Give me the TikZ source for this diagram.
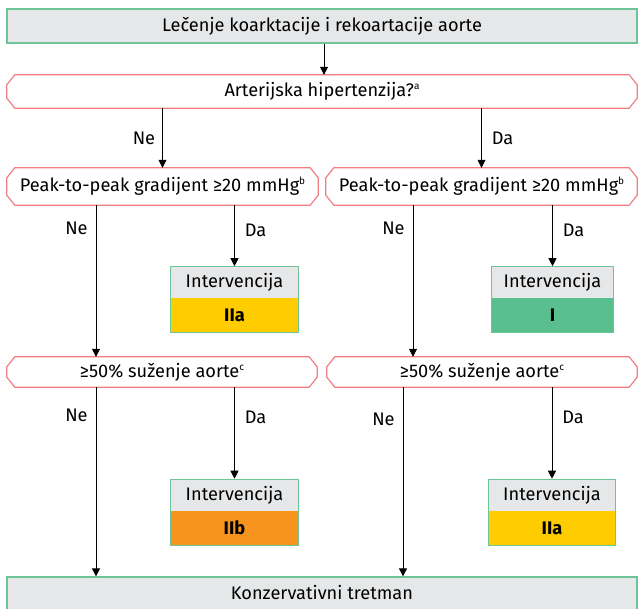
\documentclass[tikz,border=0pt]{standalone}
\usepackage{fontspec}
\setmainfont{Fira Sans}
\usetikzlibrary{arrows.meta,positioning,fit}

\definecolor{boxgreen}{HTML}{6CC497}
\definecolor{hexred}{HTML}{F07F84}
\definecolor{boxgray}{HTML}{E6E7E8}
\definecolor{clsyellow}{HTML}{FFCC00}
\definecolor{clsorange}{HTML}{F7941D}
\definecolor{clsgreen}{HTML}{59BF8E}
\newcommand{\fnmark}[1]{\raisebox{0.75ex}{\fontsize{10}{10}\selectfont #1}}

\begin{document}
\begin{tikzpicture}[
  x=1pt, y=-1pt,
  font=\fontsize{18.2}{21}\selectfont,
  wide/.style={draw=boxgreen, line width=1.3pt, fill=boxgray,
               minimum width=630pt, minimum height=34pt, inner sep=0pt},
  quest/.style={inner sep=0pt},
  hexline/.style={draw=hexred, line width=1.2pt},
  inthead/.style={fill=boxgray, minimum height=31pt, inner sep=0pt},
  intcls/.style={minimum height=34pt, inner sep=0pt, font=\fontsize{18.2}{21}\selectfont\bfseries},
  intframe/.style={draw=boxgreen, line width=1.2pt, inner sep=0pt},
  arr/.style={-{Triangle[length=8pt,width=8pt]}, line width=0.8pt},
  lbl/.style={inner sep=2pt}
]
\useasboundingbox (0,0) rectangle (639,608);

% columns of the side arrows
\coordinate (colL) at (96,0);
\coordinate (colR) at (413,0);
\coordinate (colK) at (403,0);

\node[wide] (top) at (322,26) {Lečenje koarktacije i rekoartacije aorte};
\node[quest, minimum width=630pt, minimum height=33pt] (hyp) at (322,91.5) {Arterijska hipertenzija?\fnmark{a}};

\node[quest, minimum width=311pt, minimum height=37pt] (peakL) at (162.5,186.5) {Peak-to-peak gradijent ≥20 mmHg\fnmark{b}};
\node[quest, minimum width=311pt, minimum height=37pt] (peakR) at (481.5,186.5) {Peak-to-peak gradijent ≥20 mmHg\fnmark{b}};

\node[inthead, minimum width=127pt] (intA) at (234.5,282.5) {Intervencija};
\node[intcls, minimum width=127pt, fill=clsyellow, below=0pt of intA] (intAcls) {IIa};
\node[intframe, fit=(intA)(intAcls)] (intAbox) {};

\node[inthead, minimum width=121pt] (intI) at (552.5,282.5) {Intervencija};
\node[intcls, minimum width=121pt, fill=clsgreen, below=0pt of intI] (intIcls) {I};
\node[intframe, fit=(intI)(intIcls)] (intIbox) {};

\node[quest, minimum width=310pt, minimum height=30pt] (stenL) at (162,372) {≥50\% suženje aorte\fnmark{c}};
\node[quest, minimum width=310pt, minimum height=30pt] (stenR) at (482,372) {≥50\% suženje aorte\fnmark{c}};

\node[inthead, minimum width=127pt] (intB) at (234.5,495) {Intervencija};
\node[intcls, minimum width=127pt, fill=clsorange, below=0pt of intB] (intBcls) {IIb};
\node[intframe, fit=(intB)(intBcls)] (intBbox) {};

\node[inthead, minimum width=127pt] (intC) at (552,495) {Intervencija};
\node[intcls, minimum width=127pt, fill=clsyellow, below=0pt of intC] (intCcls) {IIa};
\node[intframe, fit=(intC)(intCcls)] (intCbox) {};

\node[wide, minimum height=36pt] (kons) at (322,595) {};
\node (konstxt) at (322,592) {Konzervativni tretman};

% chamfered outlines of the question boxes
\foreach \q in {hyp,peakL,peakR,stenL,stenR}
  \draw[hexline] ([xshift=8pt]\q.north west) -- ([xshift=-8pt]\q.north east)
    -- ([yshift=-10pt]\q.north east) -- ([yshift=10pt]\q.south east)
    -- ([xshift=-8pt]\q.south east) -- ([xshift=8pt]\q.south west)
    -- ([yshift=10pt]\q.south west) -- ([yshift=-10pt]\q.north west) -- cycle;

\draw[arr] (top.south -| hyp.south) ++(2,0) coordinate (tphit) -- (tphit |- hyp.north);
\draw[arr] (hyp.south -| peakL.north) -- (peakL.north) node[lbl, midway, left=5pt] {Ne};
\draw[arr] (hyp.south -| peakR.north) -- (peakR.north) node[lbl, midway, right=8pt] {Da};

\draw[arr] (peakL.south -| colL) -- (stenL.north -| colL) node[lbl, pos=0.15, left=6pt] {Ne};
\draw[arr] (peakL.south -| intAbox.north) -- (intAbox.north) node[lbl, pos=0.42, right=8pt] {Da};
\draw[arr] (peakR.south -| colR) -- (stenR.north -| colR) node[lbl, pos=0.15, left=6pt] {Ne};
\draw[arr] (peakR.south -| intIbox.north) -- (intIbox.north) node[lbl, pos=0.42, right=8pt] {Da};

\draw[arr] (stenL.south -| colL) -- (kons.north -| colL) node[lbl, pos=0.15, left=6pt] {Ne};
\draw[arr] (stenL.south -| intBbox.north) -- (intBbox.north) node[lbl, pos=0.33, right=8pt] {Da};
\draw[arr] (stenR.south -| colK) -- (kons.north -| colK) node[lbl, pos=0.17, left=6pt] {Ne};
\draw[arr] (stenR.south -| intCbox.north) -- (intCbox.north) node[lbl, pos=0.33, right=8pt] {Da};
\end{tikzpicture}
\end{document}
